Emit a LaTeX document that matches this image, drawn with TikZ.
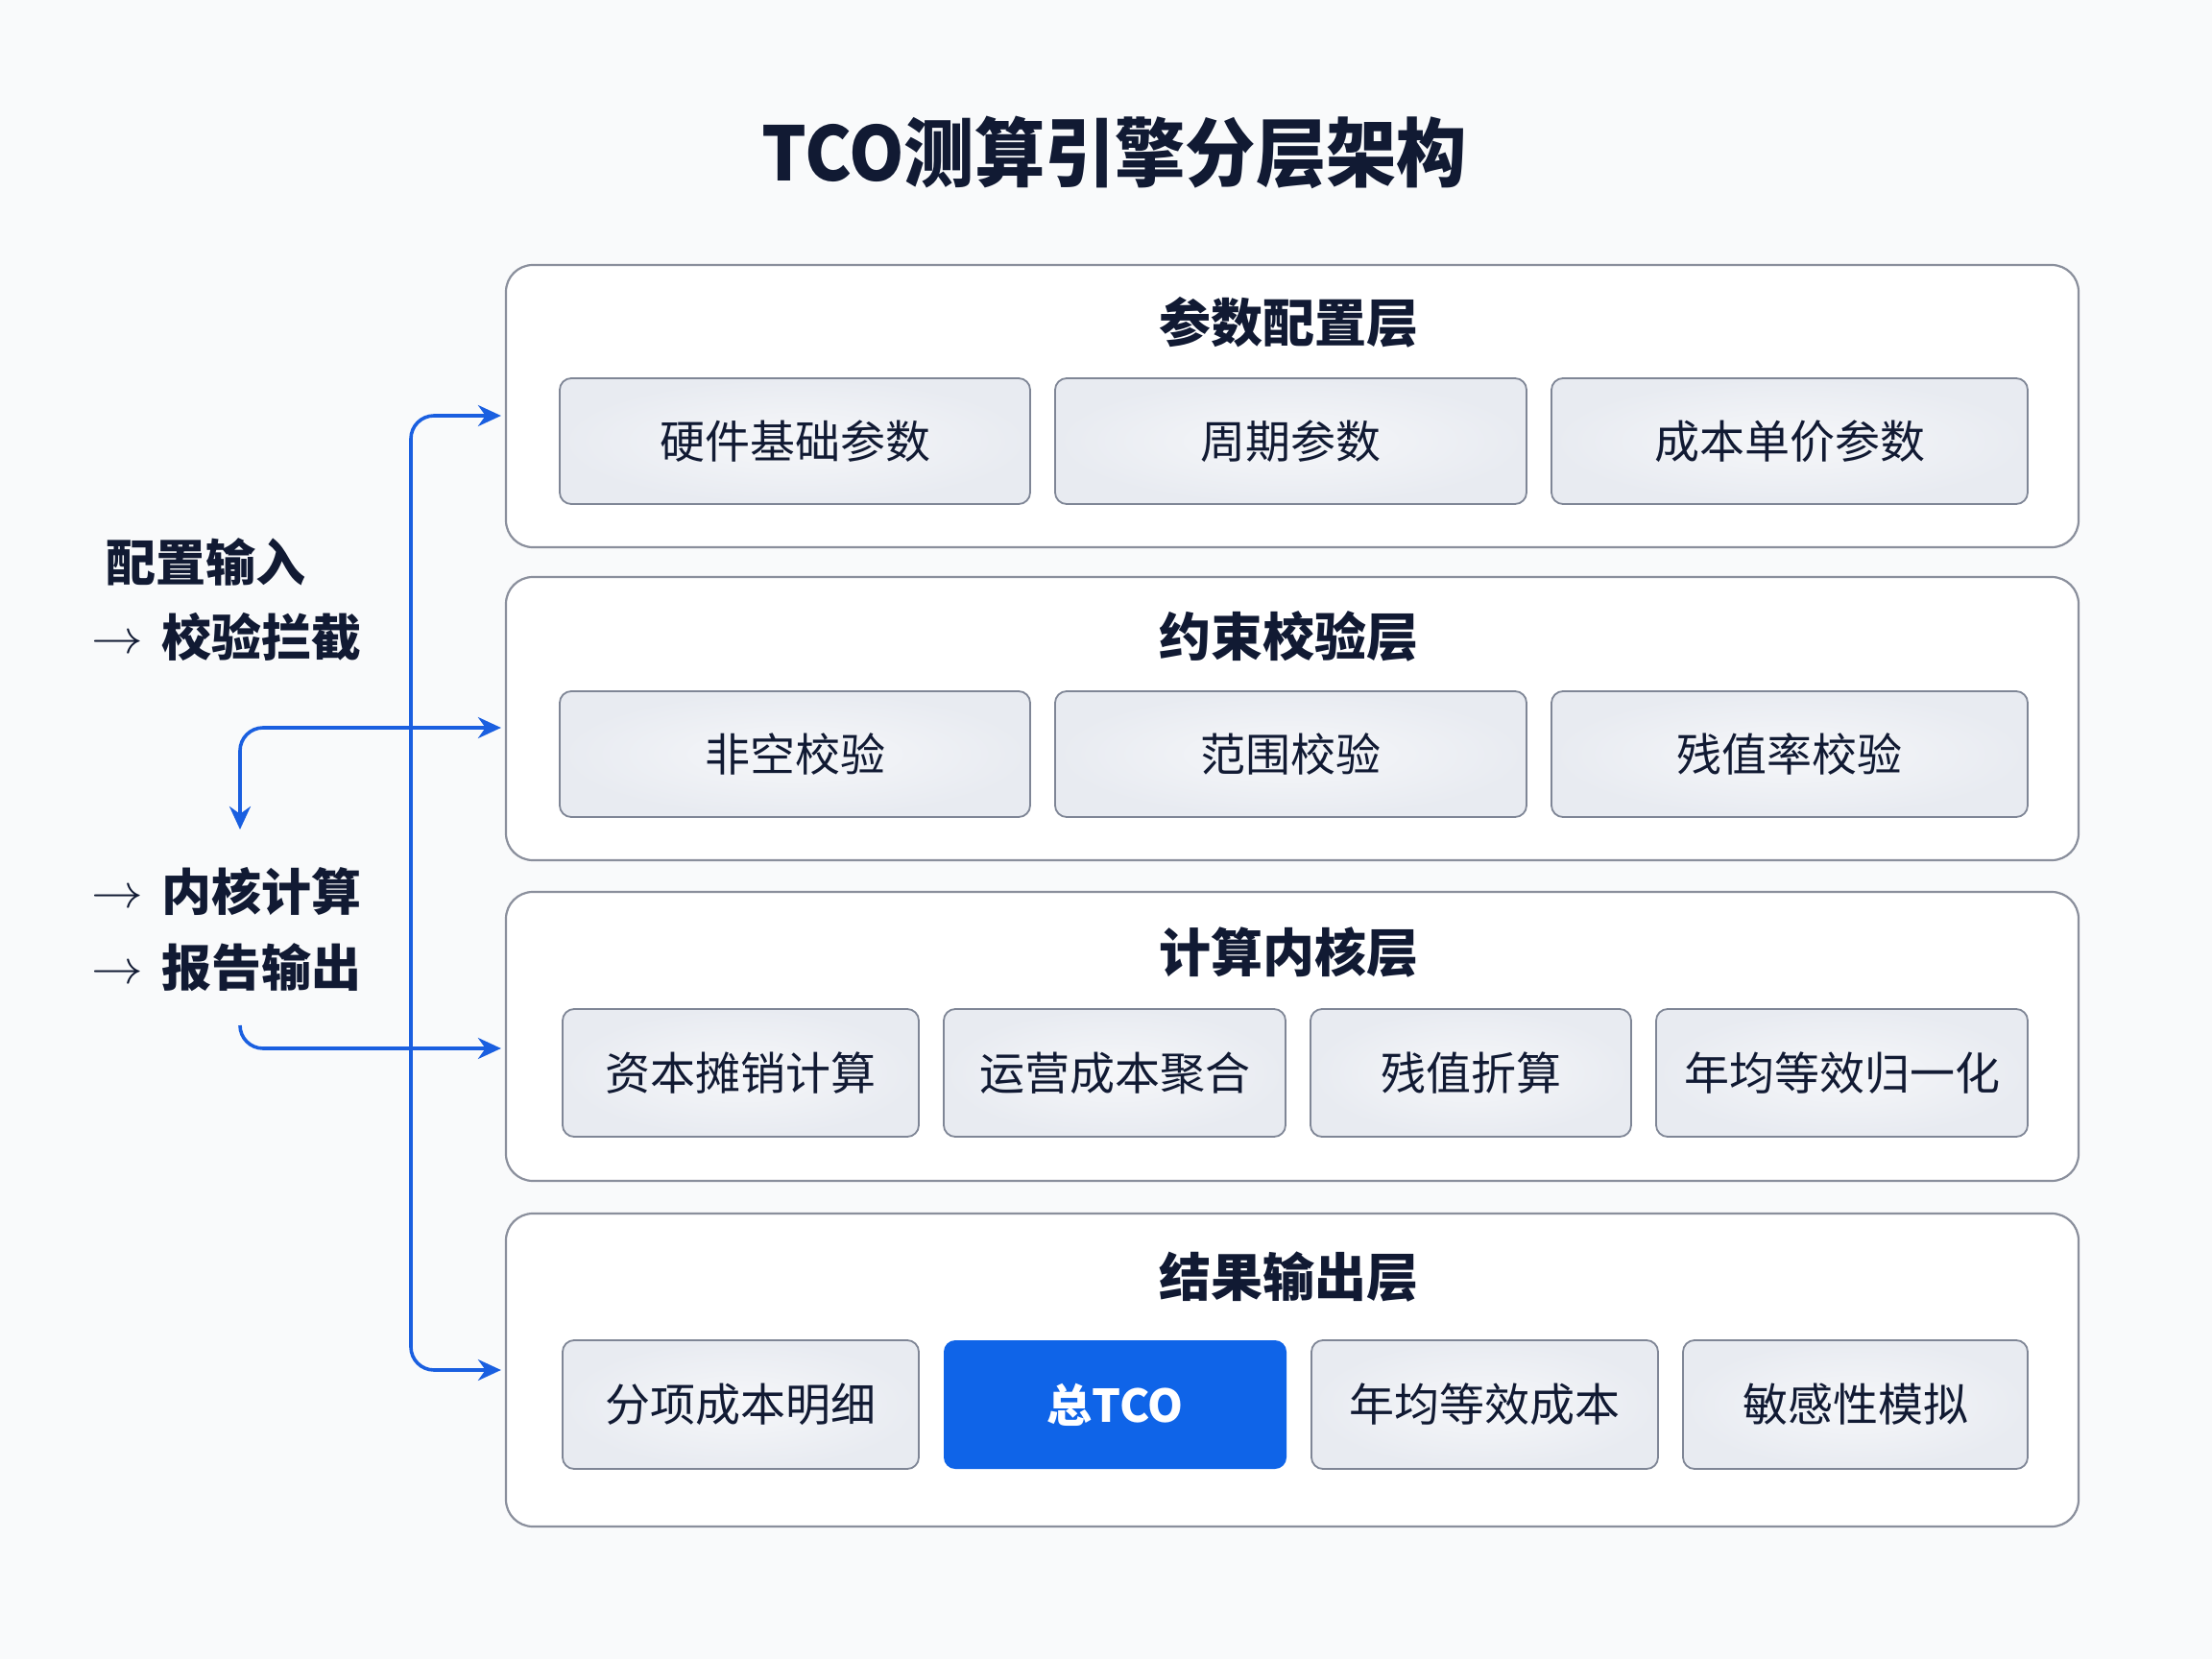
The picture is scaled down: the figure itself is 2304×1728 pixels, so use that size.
\documentclass[tikz,border=0pt]{standalone}
\usepackage{fontspec}
\usepackage{graphicx}
\setmainfont{Noto Sans CJK SC}
\usetikzlibrary{arrows.meta}
\definecolor{textdark}{HTML}{111A33}
\definecolor{flowblue}{HTML}{1A5FE0}
\definecolor{tcoblue}{HTML}{0F64E8}
\definecolor{layerborder}{HTML}{8A8F9C}
\definecolor{itemborder}{HTML}{7F8696}
\definecolor{itemfill}{HTML}{E8EBF1}
\definecolor{bgcol}{HTML}{F9FAFB}
\newcommand{\sidearrow}{\raisebox{1.5pt}{\scalebox{1.08}[1]{$\rightarrow$}}\hspace{0.38em}}
\tikzset{
  layerbox/.style={draw=layerborder, line width=1.1pt, fill=white, rounded corners=14pt,
    minimum width=819pt, inner sep=0pt},
  layertitle/.style={font=\bfseries\fontsize{27pt}{30pt}\selectfont, text=textdark, inner sep=0pt},
  itembox/.style={draw=itemborder, line width=0.9pt, rounded corners=6pt, inner sep=0pt,
    inner color=white!60!itemfill, outer color=itemfill,
    font=\fontsize{23.5pt}{26pt}\selectfont, text=textdark},
  tcobox/.style={fill=tcoblue, rounded corners=6pt, inner sep=0pt,
    font=\bfseries\fontsize{23.5pt}{26pt}\selectfont, text=white},
  sidetext/.style={font=\bfseries\fontsize{26pt}{30pt}\selectfont, text=textdark, inner sep=0pt, anchor=west},
  flow/.style={draw=flowblue, line width=1.8pt, rounded corners=12pt,
    arrows={-Stealth[length=12pt,width=11pt]}},
}
\begin{document}
\begin{tikzpicture}[x=0.5pt,y=-0.5pt]
\useasboundingbox[fill=bgcol] (0,0) rectangle (2304,1728);

\node[font=\bfseries\fontsize{39pt}{44pt}\selectfont, text=textdark, inner sep=0pt] (title) at (1161,159) {\scalebox{0.94}[1]{TCO测算引擎分层架构}};

% layers
\node[layerbox, minimum height=147pt] (L1) at (1346,423) {};
\node[layerbox, minimum height=147.5pt] (L2) at (1346,748.5) {};
\node[layerbox, minimum height=150.5pt] (L3) at (1346,1079.5) {};
\node[layerbox, minimum height=163pt] (L4) at (1346,1427) {};

\node[layertitle] (T1) at (1342,336) {参数配置层};
\node[layertitle] (T2) at (1342,663) {约束校验层};
\node[layertitle] (T3) at (1342,992) {计算内核层};
\node[layertitle] (T4) at (1342,1330) {结果输出层};

% layer 1 items
\node[itembox, minimum width=245pt, minimum height=65.5pt] (a1) at (828,459.5) {硬件基础参数};
\node[itembox, minimum width=245.5pt, minimum height=65.5pt] (a2) at (1344.5,459.5) {周期参数};
\node[itembox, minimum width=248pt, minimum height=65.5pt] (a3) at (1864,459.5) {成本单价参数};

% layer 2 items
\node[itembox, minimum width=245pt, minimum height=65.5pt] (b1) at (828,785.5) {非空校验};
\node[itembox, minimum width=245.5pt, minimum height=65.5pt] (b2) at (1344.5,785.5) {范围校验};
\node[itembox, minimum width=248pt, minimum height=65.5pt] (b3) at (1864,785.5) {残值率校验};

% layer 3 items
\node[itembox, minimum width=185.5pt, minimum height=66.5pt] (c1) at (771.5,1117.5) {资本摊销计算};
\node[itembox, minimum width=178pt, minimum height=66.5pt] (c2) at (1161,1117.5) {运营成本聚合};
\node[itembox, minimum width=167pt, minimum height=66.5pt] (c3) at (1532,1117.5) {残值折算};
\node[itembox, minimum width=193.5pt, minimum height=66.5pt] (c4) at (1918.5,1117.5) {年均等效归一化};

% layer 4 items
\node[itembox, minimum width=185.5pt, minimum height=67pt] (d1) at (771.5,1463) {分项成本明细};
\node[tcobox, minimum width=178.5pt, minimum height=67pt] (d2) at (1161.5,1463) {总TCO};
\node[itembox, minimum width=180.5pt, minimum height=67pt] (d3) at (1546.5,1463) {年均等效成本};
\node[itembox, minimum width=179.5pt, minimum height=67pt] (d4) at (1932.5,1463) {敏感性模拟};

% side text
\node[sidetext] (s1) at (110,585) {配置输入};
\node[sidetext] (s2) at (95,663) {\sidearrow 校验拦截};
\node[sidetext] (s3) at (95,929) {\sidearrow 内核计算};
\node[sidetext] (s4) at (95,1008) {\sidearrow 报告输出};

% flow connectors
\coordinate (down) at (250,864);
\coordinate (up) at (250,1068);
\draw[flow, arrows={Stealth[length=12pt,width=11pt]-Stealth[length=12pt,width=11pt]}]
  ([xshift=-2pt]L1.west |- 0,433) -- (428,433) -- (428,1427) -- ([xshift=-2pt]L4.west |- 0,1427);
\draw[flow, arrows={Stealth[length=12pt,width=11pt]-Stealth[length=12pt,width=11pt]}]
  (down) -- (250,758) -- ([xshift=-2pt]L2.west |- 0,758);
\draw[flow] (up) -- (250,1092) -- ([xshift=-2pt]L3.west |- 0,1092);
\end{tikzpicture}
\end{document}
